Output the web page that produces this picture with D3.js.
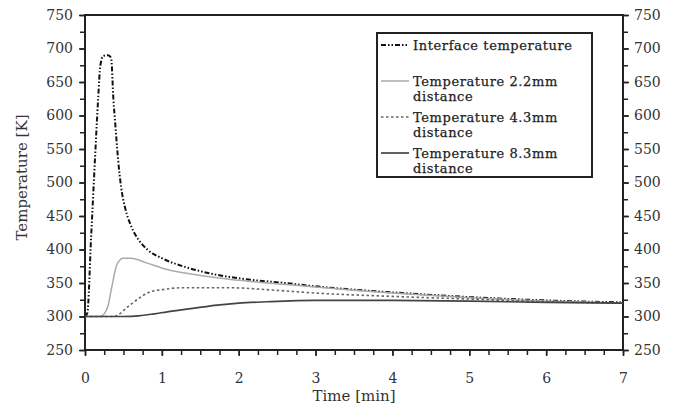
<!DOCTYPE html>
<html>
<head>
<meta charset="utf-8">
<script src="https://cdn.jsdelivr.net/npm/d3@7"></script>
<style>
  body { margin: 0; background: #fff; }
  text { font-family: 'DejaVu Serif', serif; fill: #333; }
  .axis path, .axis line { stroke: #222; }
</style>
</head>
<body>
<div class="chart"></div>
<script>
// values (time in min, temperature in K)
const interfaceT = [0, 0.03, 0.08, 0.13, 0.17, 0.2, 0.24, 0.3, 0.34, 0.37, 0.39, 0.43, 0.47, 0.52, 0.6, 0.7, 0.82, 1.0, 1.3, 1.6, 2.0, 2.6, 3.0, 3.5, 4.0, 5.0, 6.0, 7.0];
const interfaceV = [300, 305, 420, 535, 623, 675, 689, 690, 686, 623, 593, 535, 493, 463, 435, 414, 399, 387, 374, 365, 357, 350, 345, 340, 336, 329, 324, 321];

const d22T = [0, 0.2, 0.25, 0.3, 0.35, 0.42, 0.5, 0.6, 0.8, 1.07, 1.4, 1.72, 2.0, 2.37, 3.0, 3.5, 4.0, 5.0, 6.0, 7.0];
const d22V = [300, 300, 304, 316, 345, 379, 387, 387, 380, 370, 363, 358, 354, 350, 344, 339, 335, 328, 323, 320];

const d43T = [0, 0.38, 0.45, 0.55, 0.64, 0.75, 0.85, 1.0, 1.29, 1.85, 2.5, 3.0, 4.0, 5.0, 6.0, 7.0];
const d43V = [300, 300, 304, 314, 322, 331, 337, 340, 343, 343, 339, 335, 330, 326, 322, 320];

const d83T = [0, 0.5, 0.7, 0.9, 1.07, 1.4, 1.72, 2.0, 2.37, 3.0, 4.0, 5.0, 6.0, 7.0];
const d83V = [300, 300, 301, 304, 307, 312, 317, 320, 322, 324, 324, 323, 321, 320];

const xTicks = [0, 1, 2, 3, 4, 5, 6, 7];
const yTicks = [250, 300, 350, 400, 450, 500, 550, 600, 650, 700, 750];

const legendLabels = [
  ['Interface temperature'],
  ['Temperature 2.2mm', 'distance'],
  ['Temperature 4.3mm', 'distance'],
  ['Temperature 8.3mm', 'distance'],
];

const series = [
  { t: interfaceT, v: interfaceV, color: '#111', width: 2, dash: '5,2,1.5,2,1.5,2' },
  { t: d22T, v: d22V, color: '#aaa', width: 1.5, dash: null },
  { t: d43T, v: d43V, color: '#666', width: 1.6, dash: '2.5,2.5' },
  { t: d83T, v: d83V, color: '#444', width: 1.7, dash: null },
];

const W = 677, H = 404;
const margin = { top: 15, right: 54, bottom: 54, left: 85 };

const x = d3.scaleLinear().domain([0, 7]).range([margin.left, W - margin.right]);
const y = d3.scaleLinear().domain([250, 750]).range([H - margin.bottom, margin.top]);

const svg = d3.select('.chart').append('svg')
  .attr('width', W)
  .attr('height', H);

// frame
svg.append('rect')
  .attr('x', x(0))
  .attr('y', y(750))
  .attr('width', x(7) - x(0))
  .attr('height', y(250) - y(750))
  .attr('fill', 'none')
  .attr('stroke', '#222')
  .attr('stroke-width', 2);

// minor ticks
const xMinor = d3.range(0, 7.01, 0.25);
const yMinor = d3.range(250, 751, 25);

svg.append('g')
  .attr('class', 'axis')
  .attr('transform', `translate(0,${y(250)})`)
  .call(d3.axisBottom(x).tickValues(xMinor).tickSize(5).tickFormat(''))
  .call(g => g.select('.domain').remove())
  .selectAll('line').attr('stroke-width', 1.5);

svg.append('g')
  .attr('class', 'axis')
  .attr('transform', `translate(${x(0)},0)`)
  .call(d3.axisLeft(y).tickValues(yMinor).tickSize(5).tickFormat(''))
  .call(g => g.select('.domain').remove())
  .selectAll('line').attr('stroke-width', 1.5);

svg.append('g')
  .attr('class', 'axis')
  .attr('transform', `translate(${x(7)},0)`)
  .call(d3.axisRight(y).tickValues(yMinor).tickSize(5).tickFormat(''))
  .call(g => g.select('.domain').remove())
  .selectAll('line').attr('stroke-width', 1.5);

// major tick labels
svg.append('g')
  .attr('class', 'axis')
  .attr('transform', `translate(0,${y(250)})`)
  .call(d3.axisBottom(x).tickValues(xTicks).tickSize(6).tickPadding(17).tickFormat(d3.format('d')))
  .call(g => g.select('.domain').remove())
  .call(g => g.selectAll('line').attr('stroke-width', 1.5))
  .selectAll('text')
  .style('font-size', '14px');

svg.append('g')
  .attr('class', 'axis')
  .attr('transform', `translate(${x(0)},0)`)
  .call(d3.axisLeft(y).tickValues(yTicks).tickSize(6).tickPadding(6))
  .call(g => g.select('.domain').remove())
  .call(g => g.selectAll('line').attr('stroke-width', 1.5))
  .selectAll('text')
  .style('font-size', '14px');

svg.append('g')
  .attr('class', 'axis')
  .attr('transform', `translate(${x(7)},0)`)
  .call(d3.axisRight(y).tickValues(yTicks).tickSize(6).tickPadding(5))
  .call(g => g.select('.domain').remove())
  .call(g => g.selectAll('line').attr('stroke-width', 1.5))
  .selectAll('text')
  .style('font-size', '14px');

// axis titles
svg.append('text')
  .attr('x', (x(0) + x(7)) / 2)
  .attr('y', 401)
  .attr('text-anchor', 'middle')
  .style('font-size', '15px')
  .text('Time  [min]');

svg.append('text')
  .attr('transform', `translate(27,${(y(250) + y(750)) / 2 - 5}) rotate(-90)`)
  .attr('text-anchor', 'middle')
  .style('font-size', '15px')
  .text('Temperature  [K]');

// curves
const line = d3.line()
  .x(d => x(d[0]))
  .y(d => y(d[1]))
  .curve(d3.curveMonotoneX);

series.forEach(s => {
  svg.append('path')
    .datum(s.t.map((t, i) => [t, s.v[i]]))
    .attr('fill', 'none')
    .attr('stroke', s.color)
    .attr('stroke-width', s.width)
    .attr('stroke-dasharray', s.dash)
    .attr('d', line);
});

// legend
const legend = svg.append('g');
legend.append('rect')
  .attr('x', 377)
  .attr('y', 33)
  .attr('width', 215)
  .attr('height', 144)
  .attr('fill', '#fff')
  .attr('stroke', '#222')
  .attr('stroke-width', 2);

const rowY = [45, 81, 117, 153];
legendLabels.forEach((lines, i) => {
  const s = series[i];
  legend.append('line')
    .attr('x1', 381)
    .attr('x2', 409)
    .attr('y1', rowY[i])
    .attr('y2', rowY[i])
    .attr('stroke', s.color)
    .attr('stroke-width', s.width)
    .attr('stroke-dasharray', s.dash);
  lines.forEach((txt, j) => {
    legend.append('text')
      .attr('x', 413)
      .attr('y', rowY[i] + 5 + j * 15)
      .style('font-size', '13px')
      .style('letter-spacing', '0.6px')
      .style('fill', '#222')
      .style('stroke', '#222')
      .style('stroke-width', 0.25)
      .text(txt);
  });
});
</script>
</body>
</html>
